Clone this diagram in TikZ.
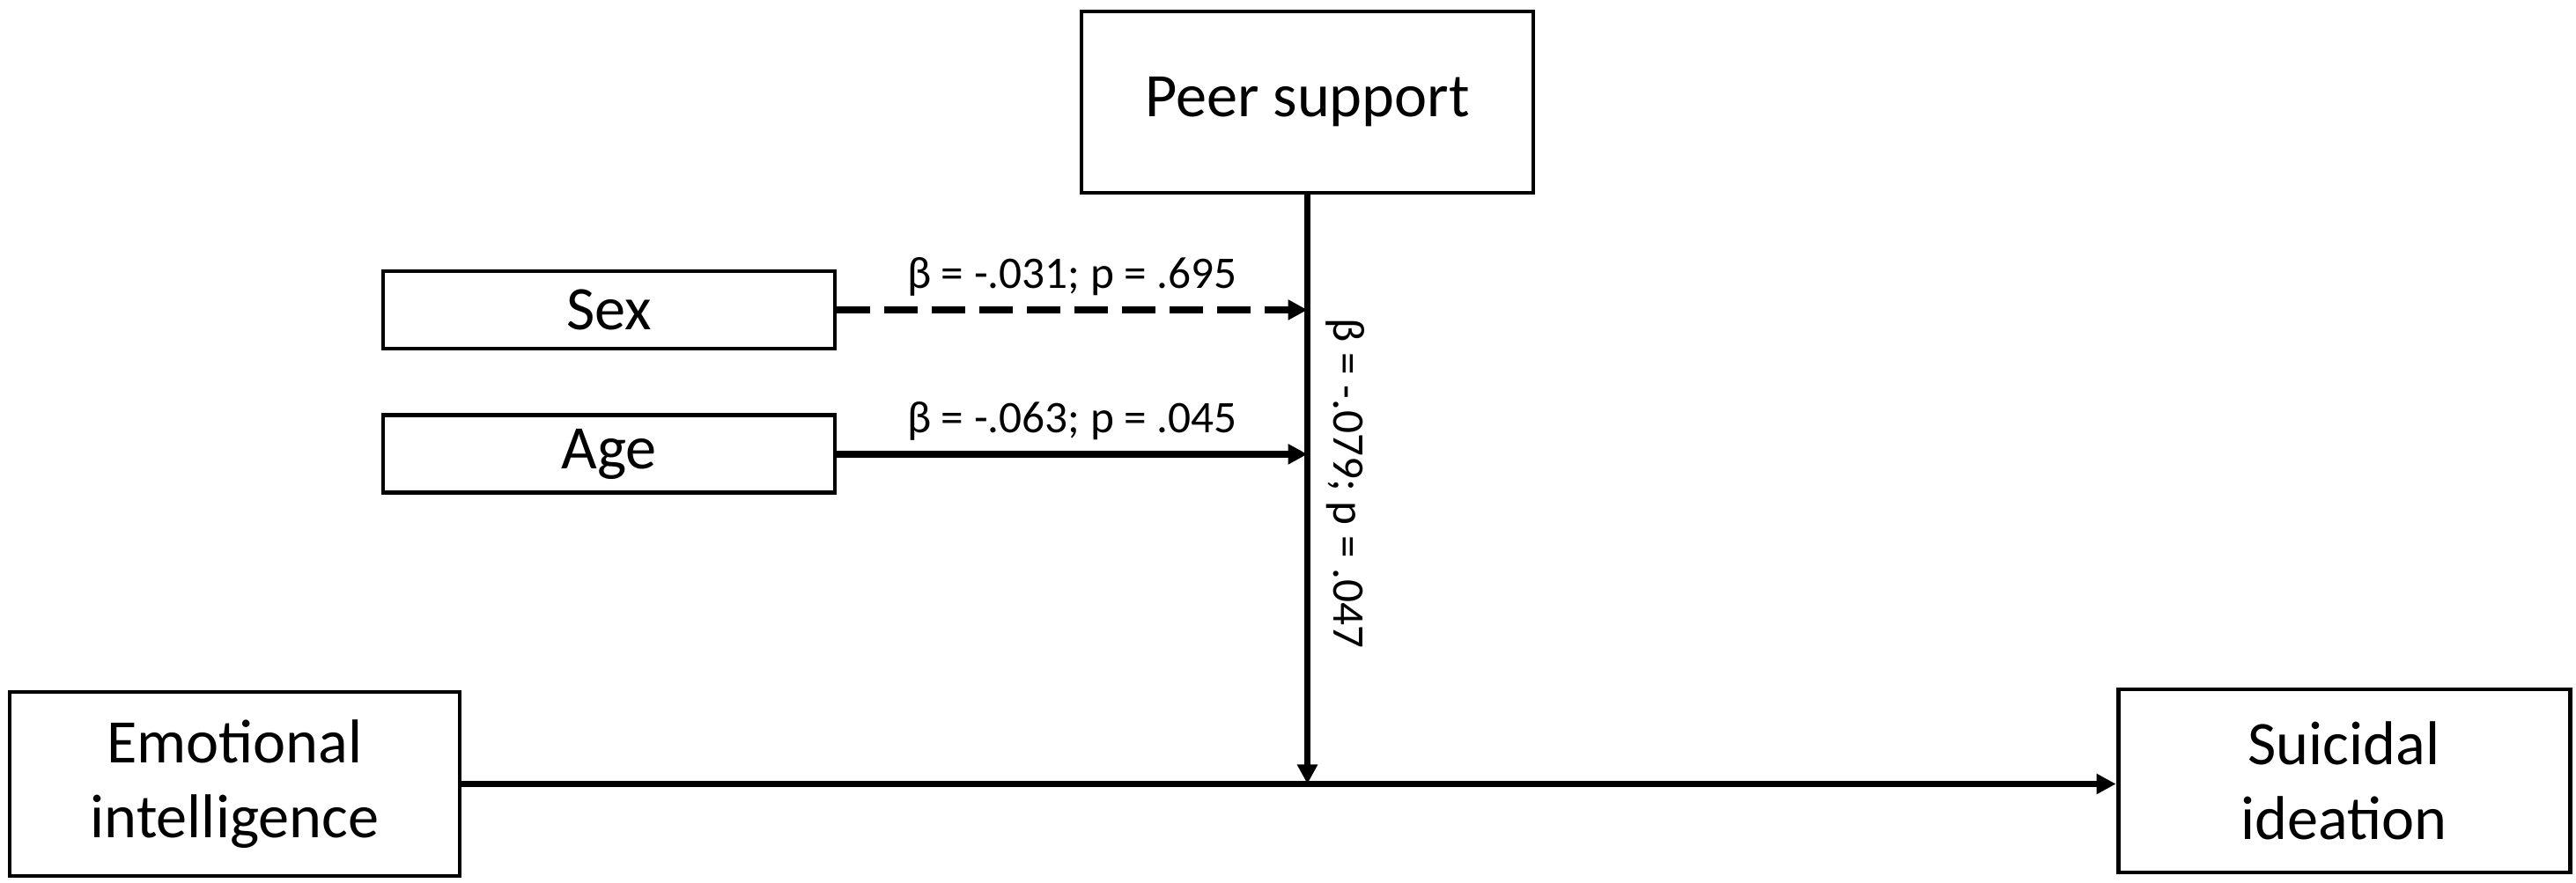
\documentclass[tikz,border=0pt]{standalone}
\usepackage{fontspec}
\setmainfont{Carlito}
\usepackage{tikz}
\usetikzlibrary{positioning,arrows.meta,calc}

\begin{document}
\begin{tikzpicture}[
    box/.style={draw,line width=1.4pt,align=center,minimum width=5.13cm,font=\fontsize{20}{24}\selectfont},
    arr/.style={-{Triangle[length=0.22cm,width=0.22cm]},line width=2.1pt},
    lbl/.style={font=\fontsize{14.6}{17}\selectfont}
  ]
    \useasboundingbox (0,0) rectangle (29.25,-10.03);
    \node[box,minimum height=2.06cm] (peer) at (14.845,-1.16) {Peer support};
    \node[box,minimum height=0.88cm] (sex) at (6.915,-3.52) {Sex};
    \node[box,minimum height=0.88cm,below=0.71cm of sex] (age) {Age};
    \node[box,minimum height=2.09cm,minimum width=5.11cm] (emo) at (2.665,-8.905) {Emotional\\intelligence};
    \node[box,minimum height=2.08cm] (sui) at (26.615,-8.87) {Suicidal\\ideation};
    \coordinate (mid) at (peer.south |- emo.east);
    \coordinate (sexin) at (sex.east -| peer.south);
    \coordinate (agein) at (age.east -| peer.south);
    \draw[arr] (emo.east) -- (emo.east -| sui.west);
    \draw[arr] (peer) -- (mid) node[lbl,pos=0.49,rotate=-90,anchor=south,inner sep=5pt] {β = -.079; p = .047};
    \draw[arr,dash pattern=on 0.38cm off 0.16cm] (sex) -- (sexin) node[lbl,midway,above] {β = -.031; p = .695};
    \draw[arr] (age) -- (agein) node[lbl,midway,above] {β = -.063; p = .045};
  \end{tikzpicture}
\end{document}
